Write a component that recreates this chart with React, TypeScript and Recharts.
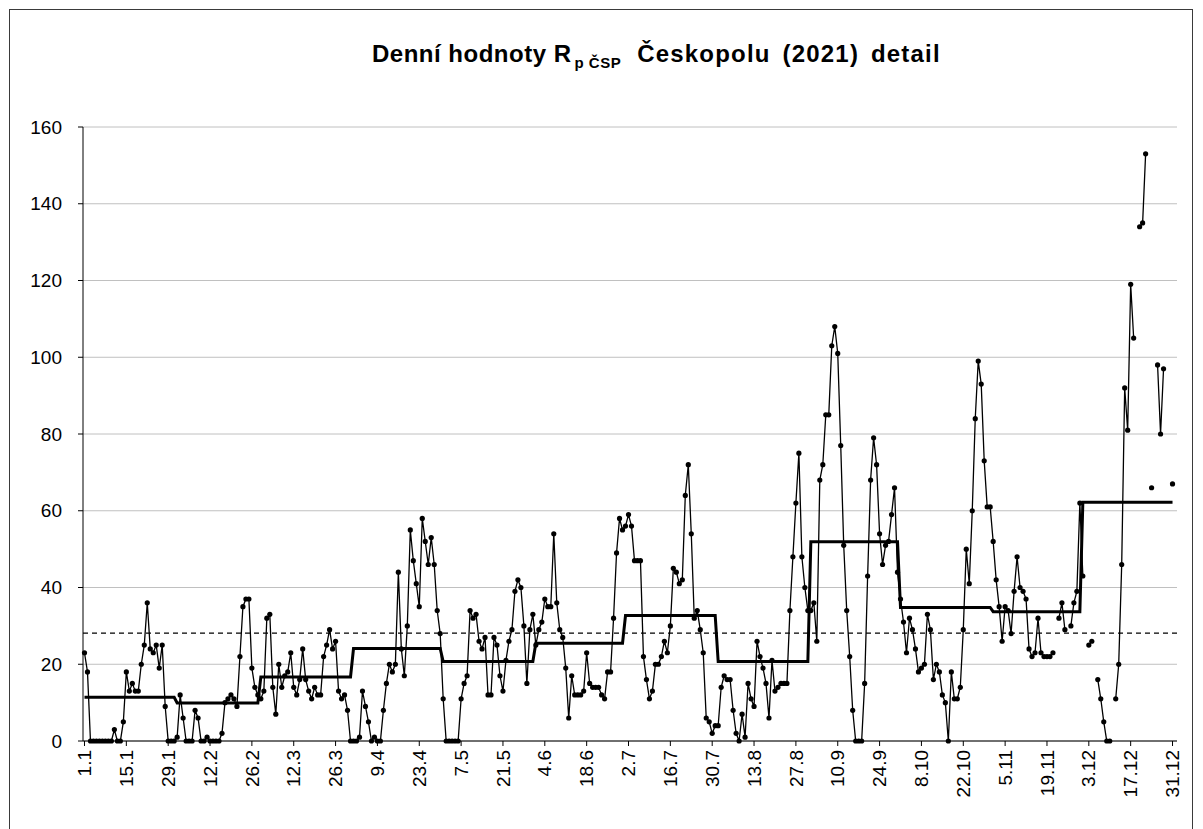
import React from 'react';
import { LineChart, Line, XAxis, YAxis, CartesianGrid, ReferenceLine } from 'recharts';

const jan = [23, 18, 0, 0, 0, 0, 0, 0, 0, 0, 3, 0, 0, 5, 18, 13, 15, 13, 13, 20, 25, 36, 24, 23, 25, 19, 25, 9, 0, 0, 0];
const feb = [1, 12, 6, 0, 0, 0, 8, 6, 0, 0, 1, 0, 0, 0, 0, 2, 10, 11, 12, 11, 9, 22, 35, 37, 37, 19, 14, 12];
const mar = [11, 13, 32, 33, 14, 7, 20, 14, 17, 18, 23, 14, 12, 16, 24, 16, 13, 11, 14, 12, 12, 22, 25, 29, 24, 26, 13, 11, 12, 8, 0];
const apr = [0, 0, 1, 13, 9, 5, 0, 1, 0, 0, 8, 15, 20, 18, 20, 44, 24, 17, 30, 55, 47, 41, 35, 58, 52, 46, 53, 46, 34, 28];
const may = [11, 0, 0, 0, 0, 0, 11, 15, 17, 34, 32, 33, 26, 24, 27, 12, 12, 27, 25, 17, 13, 21, 26, 29, 39, 42, 40, 30, 15, 29, 33];
const jun = [25, 29, 31, 37, 35, 35, 54, 36, 29, 27, 19, 6, 17, 12, 12, 12, 13, 23, 15, 14, 14, 14, 12, 11, 18, 18, 32, 49, 58, 55];
const jul = [56, 59, 56, 47, 47, 47, 22, 16, 11, 13, 20, 20, 22, 26, 23, 30, 45, 44, 41, 42, 64, 72, 54, 32, 34, 29, 23, 6, 5, 2, 4];
const aug = [4, 14, 17, 16, 16, 8, 2, 0, 7, 1, 15, 11, 9, 26, 22, 19, 15, 6, 21, 13, 14, 15, 15, 15, 34, 48, 62, 75, 48, 40, 34];
const sep = [34, 36, 26, 68, 72, 85, 85, 103, 108, 101, 77, 51, 34, 22, 8, 0, 0, 0, 15, 43, 68, 79, 72, 54, 46, 51, 52, 59, 66, 44];
const oct = [37, 31, 23, 32, 29, 24, 18, 19, 20, 33, 29, 16, 20, 18, 12, 10, 0, 18, 11, 11, 14, 29, 50, 41, 60, 84, 99, 93, 73, 61, 61];
const nov = [52, 42, 35, 26, 35, 34, 28, 39, 48, 40, 39, 37, 24, 22, 23, 32, 23, 22, 22, 22, 23, null, 32, 36, 29, null, 30, 36, 39, 62];
const dec = [43, null, 25, 26, null, 16, 11, 5, 0, 0, null, 11, 20, 46, 92, 81, 119, 105, null, 134, 135, 153, null, 66, null, 98, 80, 97, null, null, 67];

const monthlyMean = [11.4, 9.9, 16.7, 24.1, 20.7, 25.5, 32.7, 20.7, 51.9, 34.8, 33.7, 62.2];
const yearMean = 28.1;

const tickDays = [1, 15, 29, 43, 57, 71, 85, 99, 113, 127, 141, 155, 169, 183, 197, 211, 225, 239, 253, 267, 281, 295, 309, 323, 337, 351, 365];
const tickLabels = ['1.1', '15.1', '29.1', '12.2', '26.2', '12.3', '26.3', '9.4', '23.4', '7.5', '21.5', '4.6', '18.6', '2.7', '16.7', '30.7', '13.8', '27.8', '10.9', '24.9', '8.10', '22.10', '5.11', '19.11', '3.12', '17.12', '31.12'];
const yTicks = [0, 20, 40, 60, 80, 100, 120, 140, 160];

const months = [jan, feb, mar, apr, may, jun, jul, aug, sep, oct, nov, dec];
const data = months
  .flatMap((m, mi) => m.map((v) => ({ value: v, mean: monthlyMean[mi] })))
  .map((d, i) => ({ ...d, day: i + 1 }));

const FONT = '"Liberation Sans", Arial, sans-serif';

const XTick = (props: any) => {
  const { x, y, payload } = props;
  const idx = tickDays.indexOf(payload.value);
  const label = idx >= 0 ? tickLabels[idx] : '';
  const yy = y + 2;
  return (
    <text
      x={x}
      y={yy}
      dy="0.35em"
      transform={`rotate(-90, ${x}, ${yy})`}
      textAnchor="end"
      fontFamily={FONT}
      fontSize={19}
      fill="#000"
    >
      {label}
    </text>
  );
};

export default function App() {
  return (
    <div style={{ position: 'absolute', left: 0, top: 0, width: 1203, height: 829, overflow: 'hidden', background: '#fff' }}>
      <div
        style={{
          position: 'absolute',
          left: 9,
          top: 9,
          width: 1184,
          height: 840,
          border: '1px solid #3a3a3a',
          boxSizing: 'border-box',
        }}
      />
      <div
        style={{
          position: 'absolute',
          left: 372,
          top: 40,
          whiteSpace: 'nowrap',
          fontFamily: FONT,
          fontWeight: 'bold',
          fontSize: 24,
          color: '#000',
          lineHeight: '28px',
        }}
      >
        <span style={{ letterSpacing: 0.5 }}>Denní hodnoty R</span>
        <span style={{ fontSize: 15, position: 'relative', top: 6, marginLeft: 3, letterSpacing: 0.5 }}>p ČSP</span>
        <span style={{ marginLeft: 16, letterSpacing: 1.2, wordSpacing: 4 }}>Českopolu (2021) detail</span>
      </div>
      <div style={{ position: 'absolute', left: 0, top: 0 }}>
        <LineChart width={1203} height={829} data={data} margin={{ top: 127, right: 26, bottom: 0, left: 0 }}>
          <CartesianGrid vertical={false} stroke="#c0c0c0" strokeWidth={1} />
          <XAxis
            dataKey="day"
            type="number"
            domain={[0.5, 366.5]}
            ticks={tickDays}
            interval={0}
            height={88}
            tick={<XTick />}
            tickSize={5}
            tickMargin={2}
            axisLine={{ stroke: '#000', strokeWidth: 1 }}
            tickLine={{ stroke: '#000' }}
          />
          <YAxis
            type="number"
            domain={[0, 160]}
            ticks={yTicks}
            interval={0}
            width={83}
            tickSize={5}
            tickMargin={16}
            axisLine={{ stroke: '#000', strokeWidth: 1 }}
            tickLine={{ stroke: '#000' }}
            tick={{ fontFamily: FONT, fontSize: 19, fill: '#000' }}
          />
          <ReferenceLine y={yearMean} stroke="#000" strokeWidth={1.2} strokeDasharray="5 4" ifOverflow="extendDomain" />
          <Line
            type="linear"
            dataKey="value"
            stroke="#000"
            strokeWidth={1.3}
            dot={{ r: 2.6, fill: '#000', stroke: '#000', strokeWidth: 0 }}
            connectNulls={false}
            isAnimationActive={false}
          />
          <Line
            type="linear"
            dataKey="mean"
            stroke="#000"
            strokeWidth={3}
            dot={false}
            isAnimationActive={false}
          />
        </LineChart>
      </div>
    </div>
  );
}
